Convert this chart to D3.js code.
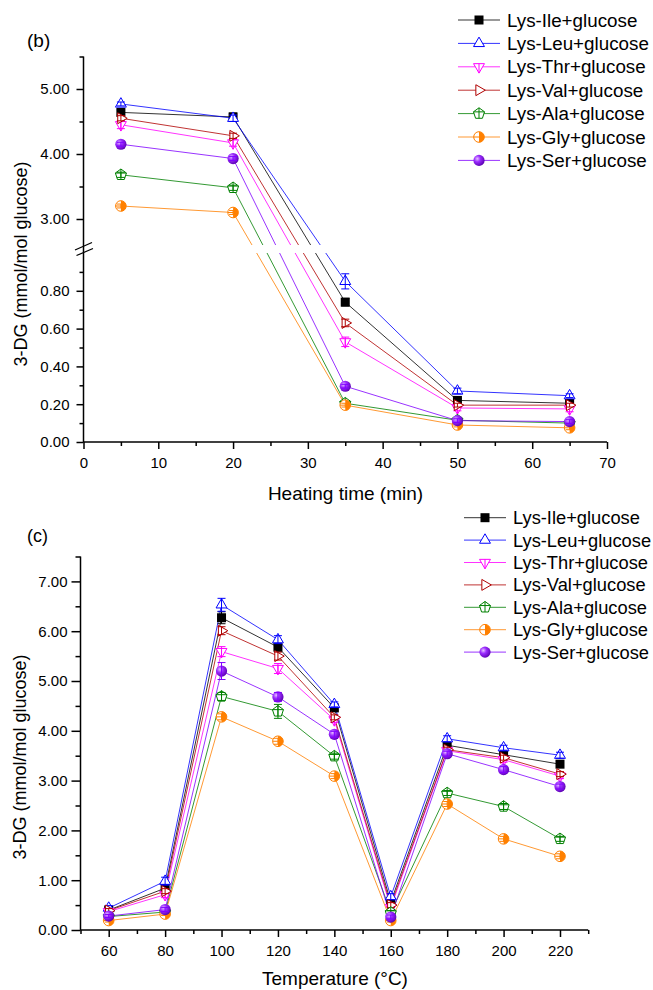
<!DOCTYPE html>
<html>
<head>
<meta charset="utf-8">
<script src="https://cdn.jsdelivr.net/npm/d3@7"></script>
<style>
  body { margin: 0; background: #fff; }
  svg { font-family: Arial, "Liberation Sans", sans-serif; }
  .axis path, .axis line { stroke: #000; stroke-width: 1.5; }
  .axis text { font-size: 15px; fill: #000; }
</style>
</head>
<body>
<div id="chart"></div>
<script>
// Series, shared by both panels
const seriesNames = ["Lys-Ile+glucose", "Lys-Leu+glucose", "Lys-Thr+glucose", "Lys-Val+glucose",
  "Lys-Ala+glucose", "Lys-Gly+glucose", "Lys-Ser+glucose"];
const seriesColors = ["#000000", "#0000ff", "#ff00ff", "#b00000", "#008000", "#ff8000", "#8000ff"];
const seriesShapes = ["square", "up", "down", "right", "pentagon", "half", "ball"];

// Panel (b): heating time
const timeMin = [5, 20, 35, 50, 65];
const timeValues = [
  [4.64, 4.57, 0.74, 0.22, 0.205],
  [4.77, 4.55, 0.85, 0.27, 0.245],
  [4.45, 4.17, 0.53, 0.18, 0.175],
  [4.55, 4.28, 0.63, 0.195, 0.195],
  [3.68, 3.48, 0.205, 0.115, 0.10],
  [3.20, 3.10, 0.195, 0.09, 0.075],
  [4.15, 3.93, 0.295, 0.113, 0.108]
];
const timeErrors = [
  [0.04, 0.06, 0.02, 0.01, 0.01],
  [0.03, 0.05, 0.04, 0.015, 0.01],
  [0.06, 0.05, 0.025, 0.015, 0.015],
  [0.04, 0.04, 0.02, 0.01, 0.01],
  [0.04, 0.04, 0.01, 0.01, 0.01],
  [0.03, 0.03, 0.01, 0.01, 0.01],
  [0.03, 0.03, 0.01, 0.01, 0.01]
];
const timeTicks = [0, 10, 20, 30, 40, 50, 60, 70];
const upperTicks = [3, 4, 5];
const lowerTicks = [0, 0.2, 0.4, 0.6, 0.8];

// Panel (c): temperature
const tempC = [60, 80, 100, 120, 140, 160, 180, 200, 220];
const tempValues = [
  [0.40, 0.84, 6.27, 5.68, 4.46, 0.56, 3.71, 3.52, 3.33],
  [0.44, 0.98, 6.53, 5.83, 4.53, 0.67, 3.84, 3.66, 3.51],
  [0.37, 0.71, 5.59, 5.25, 4.22, 0.45, 3.60, 3.42, 3.09],
  [0.39, 0.78, 6.01, 5.50, 4.27, 0.50, 3.62, 3.46, 3.13],
  [0.27, 0.36, 4.69, 4.39, 3.49, 0.35, 2.75, 2.48, 1.83],
  [0.19, 0.32, 4.28, 3.79, 3.09, 0.19, 2.53, 1.83, 1.48],
  [0.28, 0.41, 5.20, 4.68, 3.93, 0.26, 3.54, 3.22, 2.88]
];
const tempErrors = [
  [0.05, 0.06, 0.12, 0.08, 0.06, 0.05, 0.06, 0.05, 0.05],
  [0.05, 0.08, 0.13, 0.08, 0.05, 0.06, 0.06, 0.05, 0.06],
  [0.04, 0.06, 0.10, 0.10, 0.05, 0.05, 0.05, 0.05, 0.05],
  [0.04, 0.05, 0.08, 0.08, 0.05, 0.05, 0.05, 0.05, 0.05],
  [0.03, 0.04, 0.08, 0.14, 0.06, 0.04, 0.05, 0.06, 0.05],
  [0.03, 0.03, 0.06, 0.06, 0.05, 0.03, 0.05, 0.05, 0.05],
  [0.03, 0.04, 0.17, 0.09, 0.06, 0.04, 0.05, 0.06, 0.05]
];
const tempTicks = [60, 80, 100, 120, 140, 160, 180, 200, 220];
const tempYTicks = [0, 1, 2, 3, 4, 5, 6, 7];

const svg = d3.select("#chart").append("svg").attr("width", 653).attr("height", 990);

// ball gradient for Lys-Ser
const grad = svg.append("defs").append("radialGradient")
  .attr("id", "ball").attr("cx", "35%").attr("cy", "35%").attr("r", "70%");
grad.append("stop").attr("offset", "0%").attr("stop-color", "#e6c2ff");
grad.append("stop").attr("offset", "40%").attr("stop-color", "#9b2cff");
grad.append("stop").attr("offset", "100%").attr("stop-color", "#5a00b0");

function drawMarker(g, shape, color, cx, cy) {
  const m = g.append("g").attr("transform", `translate(${cx},${cy})`);
  const r = 6.3;
  const tri = `M0,${-r}L${r * 0.866},${r / 2}L${-r * 0.866},${r / 2}Z`;
  switch (shape) {
    case "square":
      m.append("rect").attr("x", -4.5).attr("y", -4.5).attr("width", 9).attr("height", 9).attr("fill", color);
      break;
    case "up":
      m.append("path").attr("d", tri).attr("fill", "#fff").attr("stroke", color);
      break;
    case "down":
      m.append("path").attr("d", tri).attr("transform", "rotate(180)").attr("fill", "#fff").attr("stroke", color);
      m.append("line").attr("x1", 0).attr("x2", 0).attr("y1", -r / 2).attr("y2", r).attr("stroke", color);
      break;
    case "right":
      m.append("path").attr("d", tri).attr("transform", "rotate(90)").attr("fill", "#fff").attr("stroke", color);
      break;
    case "pentagon": {
      const pr = 5.8;
      const pts = d3.range(5).map(k => {
        const a = (-90 + 72 * k) * Math.PI / 180;
        return [pr * Math.cos(a), pr * Math.sin(a)];
      });
      m.append("path").attr("d", "M" + pts.join("L") + "Z").attr("fill", "#fff").attr("stroke", color);
      m.append("path").attr("d", `M${-pr * 0.95},${-pr * 0.3}H${pr * 0.95}M0,${-pr}V${pr * 0.81}`)
        .attr("stroke", color).attr("fill", "none");
      break;
    }
    case "half": {
      const cr = 5.3;
      m.append("circle").attr("r", cr).attr("fill", "#fff").attr("stroke", color);
      m.append("path").attr("d", `M0,${-cr}A${cr},${cr} 0 0 1 0,${cr}Z`).attr("fill", color);
      m.append("line").attr("x1", -cr).attr("x2", 0).attr("y1", 0).attr("y2", 0).attr("stroke", color);
      break;
    }
    case "ball":
      m.append("circle").attr("r", 5.6).attr("fill", "url(#ball)");
      break;
  }
}

function drawErrorBar(g, color, cx, yTop, yBot) {
  g.append("path")
    .attr("d", `M${cx},${yTop}V${yBot}M${cx - 4},${yTop}H${cx + 4}M${cx - 4},${yBot}H${cx + 4}`)
    .attr("stroke", color).attr("stroke-width", 1).attr("fill", "none");
}

function drawSeries(g, xs, values, errors, x, y, clip) {
  const lineG = g.append("g");
  if (clip) lineG.attr("clip-path", clip);
  const line = d3.line().x(d => x(d[0])).y(d => y(d[1]));
  values.forEach((vals, i) => {
    lineG.append("path")
      .datum(xs.map((t, j) => [t, vals[j]]))
      .attr("d", line)
      .attr("fill", "none")
      .attr("stroke", seriesColors[i])
      .attr("stroke-width", 1)
      .attr("stroke-opacity", 0.8);
  });
  values.forEach((vals, i) => {
    xs.forEach((t, j) => {
      drawMarker(g, seriesShapes[i], seriesColors[i], x(t), y(vals[j]));
      const e = errors[i][j];
      drawErrorBar(g, seriesColors[i], x(t), y(vals[j] + e), y(vals[j] - e));
    });
  });
}

function drawLegend(x0, y0, step, fontSize) {
  const lg = svg.append("g").attr("class", "legend");
  seriesNames.forEach((name, i) => {
    const yy = y0 + i * step;
    lg.append("line").attr("x1", x0).attr("x2", x0 + 42).attr("y1", yy).attr("y2", yy)
      .attr("stroke", seriesColors[i]).attr("stroke-width", 1).attr("stroke-opacity", 0.8);
    drawMarker(lg, seriesShapes[i], seriesColors[i], x0 + 21, yy);
    lg.append("text").attr("x", x0 + 49).attr("y", yy + 6.5)
      .style("font-size", fontSize + "px").text(name);
  });
}

// ---------- Panel (b) ----------
const xTime = d3.scaleLinear().domain([0, 70]).range([83.5, 607]);
const yUpper = d3.scaleLinear().domain([2.6, 5.5]).range([245, 56.5]);
const yLower = d3.scaleLinear().domain([0, 1.0]).range([442, 253]);
const yBroken = v => v > 1.8 ? yUpper(v) : yLower(v);

const gB = svg.append("g");

gB.append("g").attr("class", "axis").attr("transform", "translate(0,442)")
  .call(d3.axisBottom(xTime).tickValues(timeTicks).tickSize(7).tickPadding(8).tickSizeOuter(0))
  .call(g => g.select(".domain").remove());
gB.append("g").attr("class", "axis").attr("transform", "translate(0,442)")
  .call(d3.axisBottom(xTime).tickValues(d3.range(5, 70, 10)).tickSize(4).tickFormat("").tickSizeOuter(0))
  .call(g => g.select(".domain").remove());
gB.append("line").attr("x1", xTime(0)).attr("x2", xTime(70)).attr("y1", 442).attr("y2", 442)
  .attr("stroke", "#000").attr("stroke-width", 1.5);

const fmt = d3.format(".2f");
gB.append("g").attr("class", "axis").attr("transform", "translate(83.5,0)")
  .call(d3.axisLeft(yUpper).tickValues(upperTicks).tickSize(7).tickPadding(7).tickFormat(fmt))
  .call(g => g.select(".domain").remove());
gB.append("g").attr("class", "axis").attr("transform", "translate(83.5,0)")
  .call(d3.axisLeft(yUpper).tickValues([3.5, 4.5, 5.5]).tickSize(4).tickFormat(""))
  .call(g => g.select(".domain").remove());
gB.append("g").attr("class", "axis").attr("transform", "translate(83.5,0)")
  .call(d3.axisLeft(yLower).tickValues(lowerTicks).tickSize(7).tickPadding(7).tickFormat(fmt))
  .call(g => g.select(".domain").remove());
gB.append("g").attr("class", "axis").attr("transform", "translate(83.5,0)")
  .call(d3.axisLeft(yLower).tickValues([0.1, 0.3, 0.5, 0.7, 0.9]).tickSize(4).tickFormat(""))
  .call(g => g.select(".domain").remove());
gB.append("line").attr("x1", 83.5).attr("x2", 83.5).attr("y1", yUpper(5.5)).attr("y2", 442)
  .attr("stroke", "#000").attr("stroke-width", 1.5);
// axis break marks
gB.append("path").attr("d", "M75,250L92,242.5M76.5,255.5L93,248.5")
  .attr("stroke", "#000").attr("stroke-width", 1.3).attr("fill", "none");

// clip the lines across the break
const clip = svg.select("defs").append("clipPath").attr("id", "breakClip");
clip.append("rect").attr("x", 84).attr("y", 0).attr("width", 600).attr("height", 245);
clip.append("rect").attr("x", 84).attr("y", 253).attr("width", 600).attr("height", 300);

drawSeries(gB, timeMin, timeValues, timeErrors, xTime, yBroken, "url(#breakClip)");

gB.append("text").attr("x", 27).attr("y", 47).style("font-size", "19px").text("(b)");
gB.append("text").attr("transform", "translate(27,264) rotate(-90)").attr("text-anchor", "middle")
  .style("font-size", "18px").text("3-DG (mmol/mol glucose)");
gB.append("text").attr("x", 345.5).attr("y", 500).attr("text-anchor", "middle")
  .style("font-size", "19px").text("Heating time (min)");

drawLegend(458, 20, 23.4, 18.8);

// ---------- Panel (c) ----------
const xTemp = d3.scaleLinear().domain([50, 230]).range([80.5, 588.2]);
const yTemp = d3.scaleLinear().domain([0, 7.5]).range([930, 556.5]);

const gC = svg.append("g");

gC.append("g").attr("class", "axis").attr("transform", "translate(0,930)")
  .call(d3.axisBottom(xTemp).tickValues(tempTicks).tickSize(7).tickPadding(8).tickSizeOuter(0))
  .call(g => g.select(".domain").remove());
gC.append("g").attr("class", "axis").attr("transform", "translate(0,930)")
  .call(d3.axisBottom(xTemp).tickValues(d3.range(50, 231, 20)).tickSize(4).tickFormat("").tickSizeOuter(0))
  .call(g => g.select(".domain").remove());
gC.append("line").attr("x1", xTemp(50)).attr("x2", xTemp(230)).attr("y1", 930).attr("y2", 930)
  .attr("stroke", "#000").attr("stroke-width", 1.5);

gC.append("g").attr("class", "axis").attr("transform", "translate(80.5,0)")
  .call(d3.axisLeft(yTemp).tickValues(tempYTicks).tickSize(9).tickPadding(4).tickFormat(fmt))
  .call(g => g.select(".domain").remove());
gC.append("g").attr("class", "axis").attr("transform", "translate(80.5,0)")
  .call(d3.axisLeft(yTemp).tickValues(d3.range(0.5, 7.6, 1)).tickSize(5).tickFormat(""))
  .call(g => g.select(".domain").remove());
gC.append("line").attr("x1", 80.5).attr("x2", 80.5).attr("y1", yTemp(7.5)).attr("y2", 930)
  .attr("stroke", "#000").attr("stroke-width", 1.5);

drawSeries(gC, tempC, tempValues, tempErrors, xTemp, yTemp, null);

gC.append("text").attr("x", 27).attr("y", 542).style("font-size", "18px").text("(c)");
gC.append("text").attr("transform", "translate(25.5,757) rotate(-90)").attr("text-anchor", "middle")
  .style("font-size", "18px").text("3-DG (mmol/mol glucose)");
gC.append("text").attr("x", 335).attr("y", 985).attr("text-anchor", "middle")
  .style("font-size", "19px").text("Temperature (°C)");

drawLegend(464, 517.7, 22.4, 18.3);
</script>
</body>
</html>
